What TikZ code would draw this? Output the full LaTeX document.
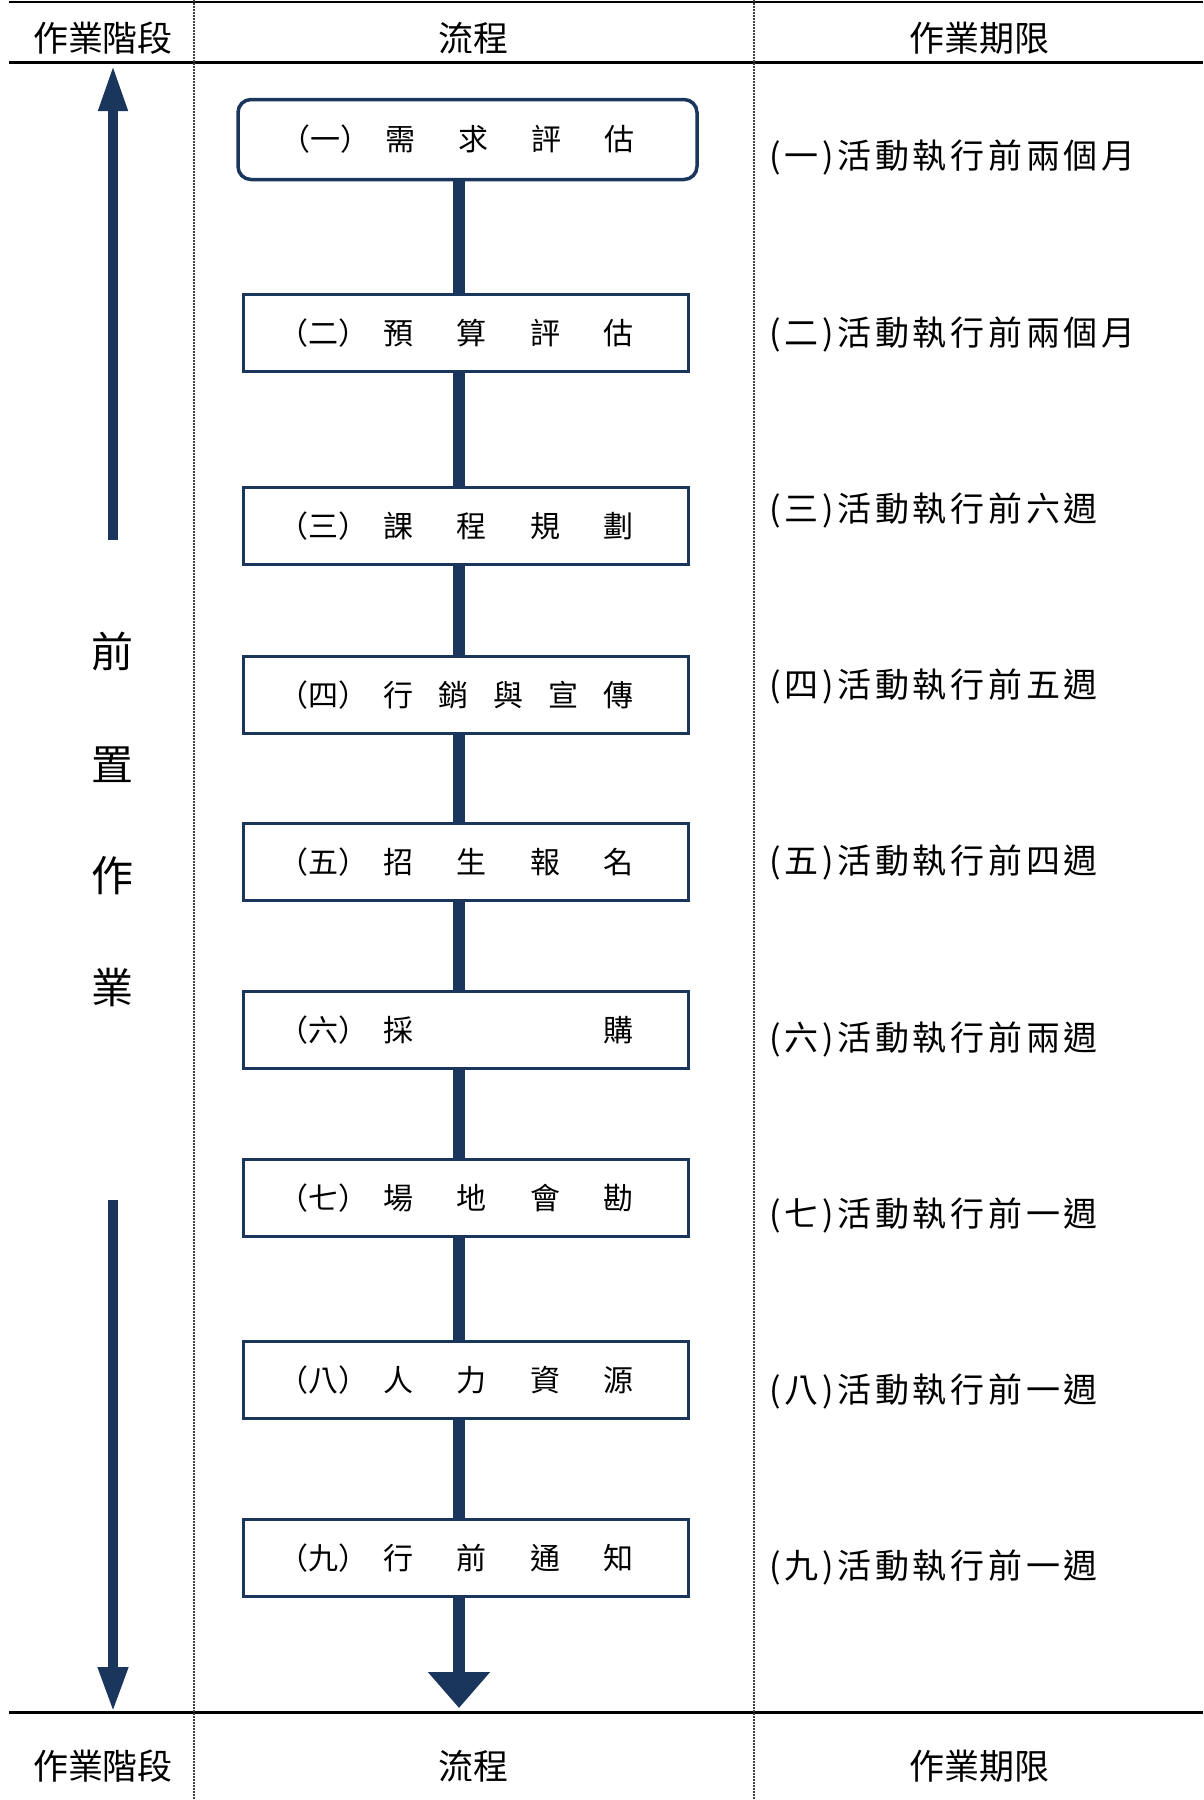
\documentclass[tikz,border=0pt]{standalone}
\usepackage{fontspec}
\setmainfont{Noto Sans CJK TC}
\newfontfamily\duefont[LetterSpace=11]{Noto Sans CJK TC}
\usetikzlibrary{arrows.meta}
\definecolor{navy}{RGB}{27,54,93}
\newcommand\boxtxt[2]{\hbox to 375pt{#1\hspace{15pt}\hbox to 250pt{#2}\hfill}}
\begin{document}
\begin{tikzpicture}[x=1pt,y=-1pt,
  stepbox/.style={draw=navy,line width=3.5pt,fill=white,minimum width=445pt,minimum height=77pt,inner sep=0pt,font=\fontsize{30}{36}\selectfont},
  firstbox/.style={stepbox,rounded corners=13pt,minimum width=459pt,minimum height=80pt},
  flow/.style={draw=navy,line width=12pt},
  side/.style={draw=navy,line width=10pt},
  hdr/.style={font=\fontsize{35}{40}\selectfont,inner sep=0pt},
  due/.style={font=\duefont\fontsize{34}{40}\selectfont,anchor=west,inner sep=0pt},
  stage/.style={font=\fontsize{42}{48}\selectfont,inner sep=0pt},
  rule/.style={line width=2.7pt},
  sep/.style={black!75,line width=1.5pt,dash pattern=on 1.5pt off 1.5pt}]

\useasboundingbox[fill=white] (0,0) rectangle (1203,1800);

% table rules
\draw[rule] (9,2) -- (1203,2);
\draw[rule] (9,62.5) -- (1203,62.5);
\draw[rule] (9,1712.5) -- (1203,1712.5);
\draw[sep] (194,0) -- (194,1800);
\draw[sep] (754,0) -- (754,1800);

% headers and footers
\node[hdr] (h1) at (103,38) {作業階段};
\node[hdr] (h2) at (473,38) {流程};
\node[hdr] (h3) at (979,38) {作業期限};
\node[hdr] (f1) at (103,1766) {作業階段};
\node[hdr] (f2) at (473,1766) {流程};
\node[hdr] (f3) at (979,1766) {作業期限};

% flow boxes
\coordinate (cx) at (459,0);
\node[firstbox] (b1) at (467.5,139.5) {\boxtxt{（一）}{需\hfill 求\hfill 評\hfill 估}};
\node[stepbox] (b2) at (466,333) {\boxtxt{（二）}{預\hfill 算\hfill 評\hfill 估}};
\node[stepbox] (b3) at (466,526) {\boxtxt{（三）}{課\hfill 程\hfill 規\hfill 劃}};
\node[stepbox] (b4) at (466,695) {\boxtxt{（四）}{行\hfill 銷\hfill 與\hfill 宣\hfill 傳}};
\node[stepbox] (b5) at (466,862) {\boxtxt{（五）}{招\hfill 生\hfill 報\hfill 名}};
\node[stepbox] (b6) at (466,1030) {\boxtxt{（六）}{採\hfill 購}};
\node[stepbox] (b7) at (466,1198) {\boxtxt{（七）}{場\hfill 地\hfill 會\hfill 勘}};
\node[stepbox] (b8) at (466,1380) {\boxtxt{（八）}{人\hfill 力\hfill 資\hfill 源}};
\node[stepbox] (b9) at (466,1558) {\boxtxt{（九）}{行\hfill 前\hfill 通\hfill 知}};
\coordinate (tip) at (459,1708);

\draw[flow] (b1.south -| cx) -- (b2.north -| cx);
\draw[flow] (b2.south -| cx) -- (b3.north -| cx);
\draw[flow] (b3.south -| cx) -- (b4.north -| cx);
\draw[flow] (b4.south -| cx) -- (b5.north -| cx);
\draw[flow] (b5.south -| cx) -- (b6.north -| cx);
\draw[flow] (b6.south -| cx) -- (b7.north -| cx);
\draw[flow] (b7.south -| cx) -- (b8.north -| cx);
\draw[flow] (b8.south -| cx) -- (b9.north -| cx);
\draw[flow,-{Triangle[width=60pt,length=36pt]}] (b9.south -| cx) -- (tip);

% stage column
\coordinate (upS) at (113,540);
\coordinate (upT) at (113,65);
\coordinate (dnS) at (113,1200);
\coordinate (dnT) at (113,1712);
\draw[side,-{Triangle[width=27pt,length=46pt]}] (upS) -- (upT);
\draw[side,-{Triangle[width=28pt,length=45pt]}] (dnS) -- (dnT);
\node[stage] (s1) at (112,651) {前};
\node[stage] (s2) at (112,765) {置};
\node[stage] (s3) at (112,876) {作};
\node[stage] (s4) at (112,988) {業};

% deadlines
\node[due] (d1) at (769,157) {(一)活動執行前兩個月};
\node[due] (d2) at (769,334) {(二)活動執行前兩個月};
\node[due] (d3) at (769,510) {(三)活動執行前六週};
\node[due] (d4) at (769,686) {(四)活動執行前五週};
\node[due] (d5) at (769,862) {(五)活動執行前四週};
\node[due] (d6) at (769,1039) {(六)活動執行前兩週};
\node[due] (d7) at (769,1215) {(七)活動執行前一週};
\node[due] (d8) at (769,1391) {(八)活動執行前一週};
\node[due] (d9) at (769,1567) {(九)活動執行前一週};
\end{tikzpicture}
\end{document}
